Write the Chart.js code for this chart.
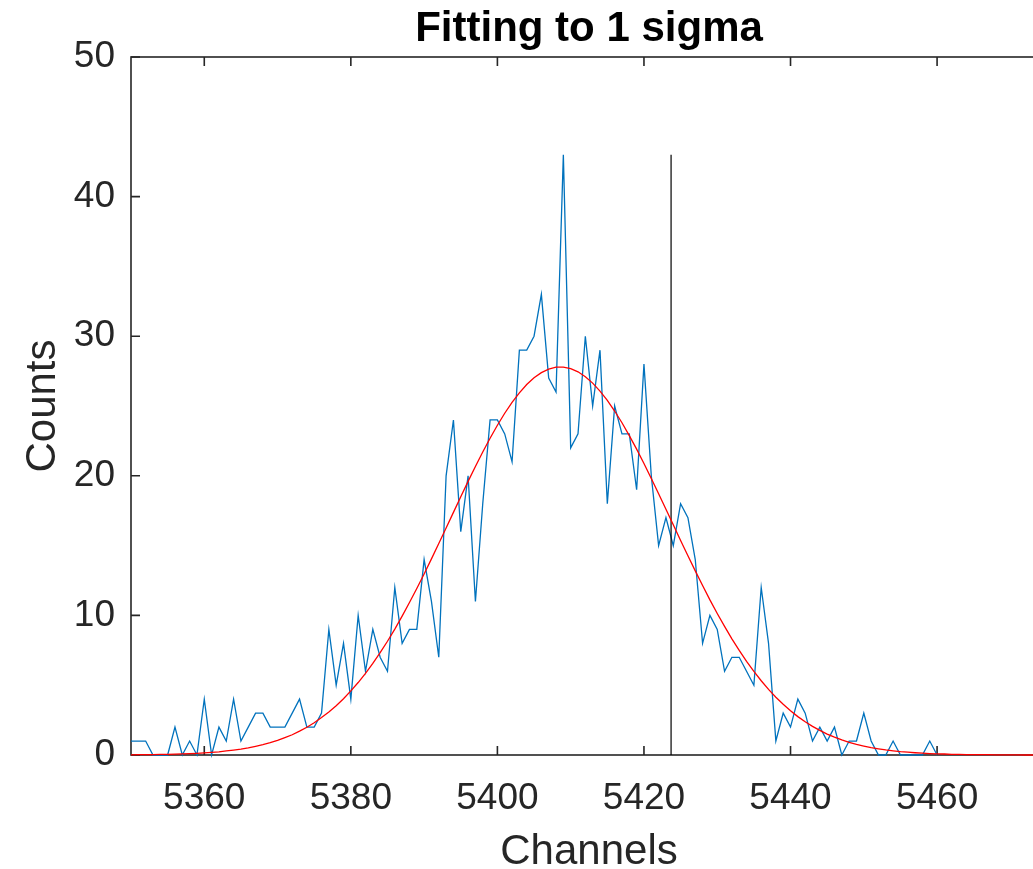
<!DOCTYPE html>
<html>
<head>
<meta charset="utf-8">
<script src="https://cdn.jsdelivr.net/npm/chart.js@4.4.1/dist/chart.umd.min.js"></script>
<style>
  html, body { margin: 0; padding: 0; background: #fff; overflow: hidden; }
  #wrap { width: 1050px; height: 869px; }
</style>
</head>
<body>
<div id="wrap"><canvas id="chart" width="1050" height="869"></canvas></div>
<script>
// Data
const firstChannel = 5350;
const counts = [
  1, 1, 1, 0, 0, 0, 2, 0, 1, 0,
  4, 0, 2, 1, 4, 1, 2, 3, 3, 2,
  2, 2, 3, 4, 2, 2, 3, 9, 5, 8,
  4, 10, 6, 9, 7, 6, 12, 8, 9, 9,
  14, 11, 7, 20, 24, 16, 20, 11, 18, 24,
  24, 23, 21, 29, 29, 30, 33, 27, 26, 43,
  22, 23, 30, 25, 29, 18, 25, 23, 23, 19,
  28, 20, 15, 17, 15, 18, 17, 14, 8, 10,
  9, 6, 7, 7, 6, 5, 12, 8, 1, 3,
  2, 4, 3, 1, 2, 1, 2, 0, 1, 1,
  3, 1, 0, 0, 1, 0, 0, 0, 0, 1,
  0
];
// red fit curve, one value per channel from 5350
const fit = [
  0.01, 0.02, 0.02, 0.03, 0.04, 0.05, 0.06, 0.08, 0.10, 0.12,
  0.15, 0.19, 0.23, 0.29, 0.35, 0.42, 0.51, 0.62, 0.74, 0.88,
  1.04, 1.24, 1.45, 1.71, 1.99, 2.31, 2.68, 3.08, 3.53, 4.03,
  4.59, 5.19, 5.85, 6.56, 7.33, 8.15, 9.02, 9.95, 10.92, 11.93,
  12.97, 14.05, 15.15, 16.26, 17.38, 18.50, 19.60, 20.67, 21.70, 22.69,
  23.62, 24.48, 25.26, 25.94, 26.54, 27.02, 27.39, 27.64, 27.78, 27.79,
  27.68, 27.45, 27.10, 26.64, 26.07, 25.40, 24.64, 23.80, 22.88, 21.91,
  20.88, 19.81, 18.72, 17.61, 16.49, 15.37, 14.27, 13.19, 12.14, 11.11,
  10.14, 9.21, 8.32, 7.49, 6.71, 5.99, 5.32, 4.70, 4.14, 3.63,
  3.17, 2.75, 2.38, 2.05, 1.76, 1.50, 1.28, 1.08, 0.91, 0.76,
  0.64, 0.53, 0.44, 0.36, 0.30, 0.24, 0.20, 0.16, 0.13, 0.10,
  0.08, 0.07, 0.05, 0.04, 0.03, 0.03, 0.02, 0.02, 0.01, 0.01,
  0.01, 0.01, 0, 0, 0, 0
];
const markerX = 5423.7;
const markerTop = 43;
const xTicks = [5360, 5380, 5400, 5420, 5440, 5460];
const yTicks = [0, 10, 20, 30, 40, 50];
const titleText = 'Fitting to 1 sigma';

const AX = '#262626';
const FONT = "'Liberation Sans', Arial, Helvetica, sans-serif";

const countPts = counts.map((v, i) => ({ x: firstChannel + i, y: v }));
const fitPts = fit.map((v, i) => ({ x: firstChannel + i, y: v }));

// MATLAB-like box with inward ticks, title centred over the axes
const boxAxes = {
  id: 'boxAxes',
  beforeDatasetsDraw(chart) {
    const { ctx, chartArea: a, scales: { x, y } } = chart;
    const tl = 9;
    ctx.save();
    ctx.strokeStyle = AX;
    ctx.lineWidth = 1.6;
    ctx.strokeRect(a.left, a.top, a.right - a.left, a.bottom - a.top);
    ctx.beginPath();
    xTicks.forEach(v => {
      const px = x.getPixelForValue(v);
      ctx.moveTo(px, a.bottom); ctx.lineTo(px, a.bottom - tl);
      ctx.moveTo(px, a.top); ctx.lineTo(px, a.top + tl);
    });
    yTicks.forEach(v => {
      const py = y.getPixelForValue(v);
      ctx.moveTo(a.left, py); ctx.lineTo(a.left + tl, py);
      ctx.moveTo(a.right, py); ctx.lineTo(a.right - tl, py);
    });
    ctx.stroke();

    ctx.fillStyle = '#000';
    ctx.font = `bold 42px ${FONT}`;
    ctx.textAlign = 'center';
    ctx.textBaseline = 'alphabetic';
    ctx.fillText(titleText, (a.left + a.right) / 2, 41);
    ctx.restore();
  }
};

new Chart(document.getElementById('chart'), {
  type: 'line',
  data: {
    datasets: [
      { label: 'fit', data: fitPts, borderColor: '#ff0000', borderWidth: 1.3,
        pointRadius: 0, fill: false, clip: false, order: 0 },
      { label: 'marker', data: [{ x: markerX, y: 0 }, { x: markerX, y: markerTop }],
        borderColor: '#000000', borderWidth: 1.2, pointRadius: 0, fill: false, order: 1 },
      { label: 'counts', data: countPts, borderColor: '#0072bd', borderWidth: 1.3,
        pointRadius: 0, fill: false, clip: false, order: 2 }
    ]
  },
  options: {
    responsive: false,
    animation: false,
    layout: { padding: { left: 0, right: 3, top: 57, bottom: 0 } },
    plugins: {
      legend: { display: false },
      tooltip: { enabled: false },
      title: { display: false }
    },
    scales: {
      x: {
        type: 'linear', min: 5350, max: 5475,
        afterBuildTicks: s => { s.ticks = xTicks.map(v => ({ value: v })); },
        afterFit: s => { s.height = 114; },
        grid: { display: false, drawTicks: false },
        border: { display: false },
        ticks: { color: AX, padding: 22, maxRotation: 0,
          font: { family: FONT, size: 37 }, callback: v => String(v) },
        title: { display: true, text: 'Channels', color: AX,
          font: { family: FONT, size: 42, lineHeight: 0.8 }, padding: { top: 0, bottom: 0 } }
      },
      y: {
        type: 'linear', min: 0, max: 50,
        afterBuildTicks: s => { s.ticks = yTicks.map(v => ({ value: v })); },
        afterFit: s => { s.width = 131; },
        grid: { display: false, drawTicks: false },
        border: { display: false },
        ticks: { color: AX, padding: 16, font: { family: FONT, size: 37 },
          callback: v => String(v) },
        title: { display: true, text: 'Counts', color: AX,
          font: { family: FONT, size: 42 }, padding: { top: 18, bottom: 0 } }
      }
    }
  },
  plugins: [boxAxes]
});
</script>
</body>
</html>
